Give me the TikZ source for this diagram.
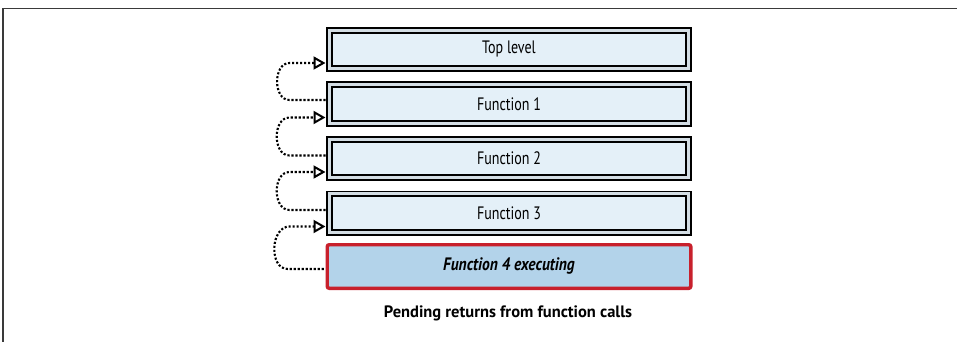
\documentclass[tikz,border=0pt]{standalone}
\usepackage{fontspec}
\setmainfont{PT Sans}[FakeStretch=0.78]
\newfontfamily\activefont{PT Sans}[FakeStretch=0.86]
\newfontfamily\capfont{PT Sans}
\usetikzlibrary{arrows.meta,calc}
\definecolor{boxfill}{HTML}{E4F0F8}
\definecolor{gapfill}{HTML}{D3DDE4}
\definecolor{redline}{HTML}{C8202C}
\definecolor{redfill}{HTML}{B3D3EA}
\definecolor{framecol}{HTML}{3A3A3A}
\tikzset{
  framebox/.style={draw=framecol, line width=1.6pt},
  levelbox/.style={draw=black, fill=boxfill, line width=1.9pt, double=gapfill,
    double distance=2.8pt, minimum width=358.5pt, minimum height=38.4pt,
    inner sep=0pt, font=\fontsize{18}{20}\selectfont},
  activebox/.style={draw=redline, fill=redfill, line width=3.4pt, rounded corners=2pt,
    minimum width=363.6pt, minimum height=43.6pt, inner sep=0pt,
    font=\activefont\fontsize{18}{20}\selectfont\bfseries\itshape},
  conn/.style={line width=2.1pt, dash pattern=on 2.1pt off 1.9pt,
    -{Triangle[open, length=12pt, width=13pt, line width=2pt]}},
  caption/.style={font=\capfont\fontsize{16.5}{18}\selectfont\bfseries}
}
\begin{document}
\begin{tikzpicture}[x=1pt,y=-1pt]
\useasboundingbox (0,0) rectangle (957,342);
\coordinate (fr1) at (3,8.5);
\coordinate (fr2) at (957,8.5);
\coordinate (fr3) at (3,342);
\draw[framebox] (fr2) -- (fr1) -- (fr3);
\node[levelbox] (b0) at (509,49.5) {Top level};
\node[levelbox] (b1) at (509,104) {Function 1};
\node[levelbox] (b2) at (509,158.5) {Function 2};
\node[levelbox] (b3) at (509,213) {Function 3};
\node[activebox] (b4) at (509,266.5) {Function 4 executing};
\node[caption] (cap) at (508,313) {Pending returns from function calls};
% connectors
\foreach \up/\lo/\off in {b0/b1/-4, b1/b2/-3, b2/b3/-3}{
  \coordinate (s) at ($(\lo.west)+(-3.3,\off)$);
  \coordinate (t) at ($(\up.west)+(-3.3,13.5)$);
  \draw[conn] (s) -- ++(-36,0) to[out=180,in=180,looseness=1.15] ($(t)+(-36,0)$) -- (t);
}
\coordinate (s4) at ($(b4.west)+(-1.7,2.5)$);
\coordinate (t4) at ($(b3.west)+(-3.3,13.5)$);
\draw[conn] (s4) -- ++(-36,0) to[out=180,in=180,looseness=1.15] ($(t4)+(-36,0)$) -- (t4);
\end{tikzpicture}
\end{document}
